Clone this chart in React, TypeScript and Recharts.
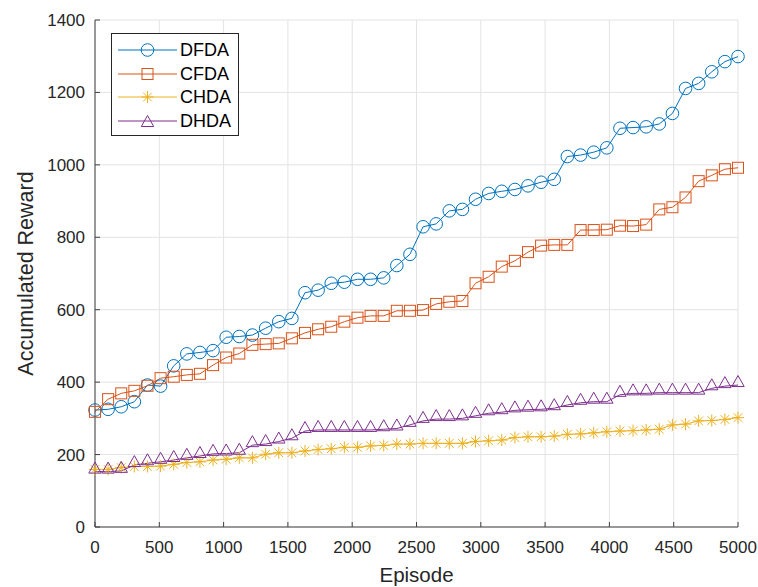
import React from "react";
import { LineChart, Line, XAxis, YAxis, CartesianGrid } from "recharts";

// episodes: 50 evenly spaced samples between 0 and 5000
const episodes = [
  0, 102, 204, 306, 408, 510, 612, 714, 816, 918, 1020, 1122, 1224, 1327, 1429,
  1531, 1633, 1735, 1837, 1939, 2041, 2143, 2245, 2347, 2449, 2551, 2653, 2755,
  2857, 2959, 3061, 3163, 3265, 3367, 3469, 3571, 3673, 3776, 3878, 3980, 4082,
  4184, 4286, 4388, 4490, 4592, 4694, 4796, 4898, 5000,
];

const dfda = [
  323, 325, 332, 346, 392, 389, 445, 478, 482, 487, 524, 526, 530, 549, 567,
  576, 647, 654, 673, 676, 684, 684, 688, 722, 753, 829, 837, 873, 877, 905,
  921, 927, 932, 942, 952, 960, 1023, 1027, 1035, 1047, 1101, 1103, 1105, 1113,
  1142, 1211, 1225, 1257, 1285, 1299,
];

const cfda = [
  318, 353, 369, 376, 390, 411, 415, 420, 423, 447, 468, 479, 503, 505, 507,
  521, 536, 546, 553, 567, 578, 583, 583, 597, 597, 599, 616, 622, 624, 673,
  691, 719, 735, 759, 777, 779, 779, 820, 820, 821, 832, 831, 835, 877, 883,
  910, 955, 971, 988, 992,
];

const chda = [
  159, 159, 164, 167, 167, 168, 173, 178, 180, 185, 187, 191, 191, 201, 205,
  205, 210, 214, 216, 220, 220, 224, 225, 229, 229, 231, 231, 231, 231, 236,
  238, 240, 247, 249, 249, 251, 256, 257, 260, 263, 265, 266, 268, 270, 282,
  284, 293, 294, 297, 302,
];

const dhda = [
  153, 153, 155, 171, 176, 180, 185, 191, 196, 202, 203, 205, 226, 229, 236,
  245, 265, 268, 268, 268, 268, 268, 270, 272, 282, 293, 298, 298, 300, 307,
  314, 317, 322, 324, 325, 328, 337, 343, 346, 346, 365, 369, 369, 371, 371,
  371, 371, 383, 389, 392,
];

const xTicks = [0, 500, 1000, 1500, 2000, 2500, 3000, 3500, 4000, 4500, 5000];
const yTicks = [0, 200, 400, 600, 800, 1000, 1200, 1400];

const data = episodes.map((episode, i) => ({
  episode,
  DFDA: dfda[i],
  CFDA: cfda[i],
  CHDA: chda[i],
  DHDA: dhda[i],
}));

const FONT = "'Liberation Sans', Arial, Helvetica, sans-serif";
const TEXT = "#262626";
const AXIS = "#404040";

type Shape = "circle" | "square" | "star" | "triangle";

function Marker({ cx, cy, color, shape }: { cx: number; cy: number; color: string; shape: Shape }) {
  if (shape === "circle") {
    return <circle cx={cx} cy={cy} r={6.3} fill="none" stroke={color} strokeWidth={1} />;
  }
  if (shape === "square") {
    return <rect x={cx - 5.5} y={cy - 5.5} width={11} height={11} fill="none" stroke={color} strokeWidth={1} />;
  }
  if (shape === "star") {
    const r = 6;
    const d = r * 0.72;
    return (
      <g stroke={color} strokeWidth={1}>
        <line x1={cx} y1={cy - r} x2={cx} y2={cy + r} />
        <line x1={cx - r} y1={cy} x2={cx + r} y2={cy} />
        <line x1={cx - d} y1={cy - d} x2={cx + d} y2={cy + d} />
        <line x1={cx - d} y1={cy + d} x2={cx + d} y2={cy - d} />
      </g>
    );
  }
  return (
    <polygon
      points={`${cx},${cy - 9.5} ${cx - 6.2},${cy + 1.5} ${cx + 6.2},${cy + 1.5}`}
      fill="none"
      stroke={color}
      strokeWidth={1}
    />
  );
}

const series: { key: string; color: string; shape: Shape }[] = [
  { key: "DFDA", color: "#0072BD", shape: "circle" },
  { key: "CFDA", color: "#D95319", shape: "square" },
  { key: "CHDA", color: "#EDB120", shape: "star" },
  { key: "DHDA", color: "#7E2F8E", shape: "triangle" },
];

function LegendBox() {
  return (
    <div
      style={{
        position: "absolute",
        left: 111,
        top: 33,
        width: 126,
        height: 101,
        border: `1px solid ${TEXT}`,
        background: "#fff",
        fontFamily: FONT,
        fontSize: 18,
        color: "#000",
      }}
    >
      {series.map((s, i) => (
        <div
          key={s.key}
          style={{ position: "absolute", left: 0, top: 4 + i * 23.7, height: 24, display: "flex", alignItems: "center" }}
        >
          <svg width={68} height={24} style={{ display: "block" }}>
            <line x1={6} y1={12} x2={65} y2={12} stroke={s.color} strokeWidth={1} />
            <Marker cx={35.5} cy={s.shape === "triangle" ? 16 : 12} color={s.color} shape={s.shape} />
          </svg>
          <span style={{ marginLeft: 0, lineHeight: "24px" }}>{s.key}</span>
        </div>
      ))}
    </div>
  );
}

export default function App() {
  const tickStyle = { fill: TEXT, fontSize: 17, fontFamily: FONT };
  return (
    <div style={{ position: "absolute", left: 0, top: 0, width: 758, height: 587, background: "#fff" }}>
      <LineChart
        width={758}
        height={587}
        data={data}
        margin={{ top: 20, right: 20, left: 0, bottom: 0 }}
      >
        <CartesianGrid stroke="#e3e3e3" strokeWidth={1} />
        <XAxis
          dataKey="episode"
          type="number"
          domain={[0, 5000]}
          ticks={xTicks}
          interval={0}
          height={60}
          tickSize={-5}
          tickMargin={19}
          stroke={AXIS}
          tick={tickStyle}
          label={{
            value: "Episode",
            position: "insideBottom",
            offset: 5,
            style: { fill: TEXT, fontSize: 20.5, fontFamily: FONT },
          }}
        />
        <XAxis
          xAxisId="top"
          orientation="top"
          type="number"
          domain={[0, 5000]}
          ticks={xTicks}
          interval={0}
          height={0}
          mirror
          tick={false}
          tickSize={5}
          stroke={AXIS}
        />
        <YAxis
          type="number"
          domain={[0, 1400]}
          ticks={yTicks}
          interval={0}
          width={95}
          tickSize={-5}
          tickMargin={15}
          stroke={AXIS}
          tick={tickStyle}
          label={{
            value: "Accumulated Reward",
            angle: -90,
            position: "insideLeft",
            offset: 25,
            style: { fill: TEXT, fontSize: 21.5, fontFamily: FONT, textAnchor: "middle" },
          }}
        />
        <YAxis
          yAxisId="right"
          orientation="right"
          type="number"
          domain={[0, 1400]}
          ticks={yTicks}
          interval={0}
          width={0}
          mirror
          tick={false}
          tickSize={5}
          stroke={AXIS}
        />
        {series.map((s) => (
          <Line
            key={s.key}
            type="linear"
            dataKey={s.key}
            stroke={s.color}
            strokeWidth={1}
            isAnimationActive={false}
            dot={(p: any) => (
              <Marker key={`${s.key}-${p.index}`} cx={p.cx} cy={p.cy} color={s.color} shape={s.shape} />
            )}
            activeDot={false}
          />
        ))}
      </LineChart>
      <LegendBox />
    </div>
  );
}
